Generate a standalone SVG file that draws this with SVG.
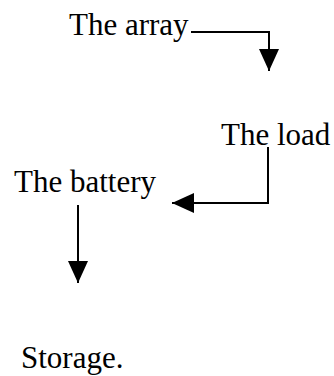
<svg xmlns="http://www.w3.org/2000/svg" width="334" height="376" viewBox="0 0 334 376">
  <style>
    .label { font-family: "Liberation Serif", "Times New Roman", serif; font-size: 31px; fill: #000; }
    .wire { fill: none; stroke: #000; stroke-width: 2; }
  </style>
  <defs>
    <marker id="head" viewBox="0 0 22 20" refX="22" refY="10" markerWidth="22" markerHeight="20" markerUnits="userSpaceOnUse" orient="auto">
      <path d="M0,0 L22,10 L0,20 Z" fill="#000"/>
    </marker>
  </defs>
  <rect width="334" height="376" fill="#fff"/>

  <g id="array"><text class="label" x="69" y="35">The array</text></g>
  <g id="load"><text class="label" x="221" y="145">The load</text></g>
  <g id="battery"><text class="label" x="14" y="192">The battery</text></g>
  <g id="storage"><text class="label" x="21" y="368">Storage.</text></g>

  <g id="connectors">
    <path class="wire" d="M191,32 H269 V71" marker-end="url(#head)"/>
    <path class="wire" d="M268,147 V203 H172" marker-end="url(#head)"/>
    <path class="wire" d="M78,205 V283" marker-end="url(#head)"/>
  </g>
</svg>
